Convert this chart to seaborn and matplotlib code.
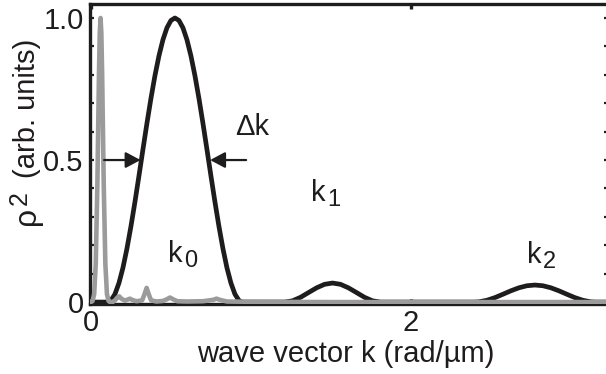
import numpy as np
import pandas as pd
import matplotlib
matplotlib.use("Agg")
import matplotlib.pyplot as plt
from matplotlib.ticker import MultipleLocator, FixedLocator
import seaborn as sns

# Spectrum of the periodic structure: main peak k0 and harmonics k1, k2
k_struct = [0.0, 0.105, 0.125, 0.15, 0.175, 0.2, 0.225, 0.25, 0.275, 0.3, 0.325,
            0.35, 0.375, 0.4, 0.425, 0.45, 0.475, 0.5, 0.525, 0.55, 0.575, 0.6,
            0.625, 0.65, 0.675, 0.7, 0.725, 0.75, 0.775, 0.8, 0.825, 0.85, 0.875,
            0.9, 0.925, 0.945,
            1.21, 1.26, 1.31, 1.36, 1.41, 1.46, 1.51, 1.56, 1.61, 1.66, 1.71, 1.76, 1.81,
            2.395, 2.425, 2.475, 2.525, 2.575, 2.625, 2.675, 2.725, 2.775, 2.825,
            2.875, 2.925, 2.975, 3.025, 3.075, 3.125, 3.155, 3.3]
rho_struct = [0.0, 0.0, 0.0056, 0.028, 0.067, 0.1208, 0.1883, 0.2666, 0.3526, 0.4441, 0.5374,
              0.6294, 0.7169, 0.7969, 0.8666, 0.9234, 0.9655, 0.9913, 1.0, 0.9913, 0.9655, 0.9234,
              0.8666, 0.7969, 0.7169, 0.6294, 0.5374, 0.4441, 0.3526, 0.2666, 0.1883, 0.1208, 0.067,
              0.028, 0.0056, 0.0,
              0.0, 0.0045, 0.0168, 0.0335, 0.050, 0.0625, 0.067, 0.0625, 0.050, 0.0335, 0.0168, 0.0045, 0.0,
              0.0, 0.0009, 0.0063, 0.0157, 0.0275, 0.0397, 0.0503, 0.0575, 0.060, 0.0575,
              0.0503, 0.0397, 0.0275, 0.0157, 0.0063, 0.0009, 0.0, 0.0]

# Spectrum of the unstructured reference (narrow peak near k = 0 plus ripples)
k_ref = [0.0, 0.01, 0.02, 0.03, 0.04, 0.05, 0.055, 0.06, 0.065, 0.07, 0.08, 0.09,
         0.1, 0.11, 0.12, 0.135, 0.15, 0.165, 0.177, 0.19, 0.2125, 0.23, 0.244, 0.26,
         0.285, 0.32, 0.333, 0.348, 0.363, 0.376, 0.41, 0.45, 0.475, 0.494, 0.513,
         0.54, 0.6, 0.7, 0.765, 0.785, 0.805, 0.85, 1.0, 1.5, 2.0, 2.5, 3.3]
rho_ref = [0.0, 0.004, 0.028, 0.135, 0.41, 0.80, 0.946, 1.0, 0.946, 0.80, 0.41, 0.135,
           0.028, 0.004, 0.0, 0.0, 0.006, 0.016, 0.02, 0.012, 0.005, 0.009, 0.012, 0.007,
           0.003, 0.006, 0.025, 0.05, 0.025, 0.006, 0.002, 0.004, 0.01, 0.016, 0.01,
           0.003, 0.002, 0.003, 0.008, 0.012, 0.008, 0.002, 0.001, 0.0, 0.0, 0.0, 0.0]

# Peak labels: letter, harmonic index and position
peak_index = ["0", "1", "2"]
peak_label_k = [0.525, 1.42, 2.77]
peak_label_y = [0.17, 0.385, 0.165]

# Half-maximum width markers
half_level = 0.5
fwhm_left = 0.31
fwhm_right = 0.745

sns.set_style("ticks")
plt.rcParams["font.family"] = ["Liberation Sans", "DejaVu Sans"]

ink = "#1f1c1d"
grey = "#9b9b9b"
fs = 21

W, H = 606, 374
fig = plt.figure(figsize=(W / 100, H / 100), dpi=100)
ax = fig.add_axes([0.1493, 0.1885, 0.8540, 0.7995])

df_struct = pd.DataFrame({"k": k_struct, "rho": rho_struct})
df_ref = pd.DataFrame({"k": k_ref, "rho": rho_ref})

sns.lineplot(data=df_struct, x="k", y="rho", ax=ax, color=ink, lw=3.4,
             sort=False, estimator=None, zorder=2.6)
sns.lineplot(data=df_ref, x="k", y="rho", ax=ax, color=grey, lw=3.3,
             sort=False, estimator=None, zorder=3)

ax.set_xlim(-0.003, 3.232)
ax.set_ylim(-0.005, 1.0475)

# Axes frame
for side in ["left", "top", "bottom", "right"]:
    ax.spines[side].set_color(ink)
    ax.spines[side].set_linewidth(2.4)

ax.xaxis.set_major_locator(FixedLocator([0, 2]))
ax.set_xticklabels(["0", "2"])
ax.yaxis.set_major_locator(FixedLocator([0, 0.5, 1.0]))
ax.set_yticklabels(["0", "0.5", "1.0"])
ax.yaxis.set_minor_locator(MultipleLocator(0.1))

ax.tick_params(axis="x", which="major", direction="in", length=3.5, width=2.4,
               top=True, bottom=True, color=ink, labelsize=fs, pad=4, labelcolor=ink)
ax.tick_params(axis="y", which="both", direction="in", length=3.0, width=1.6,
               left=True, right=True, color=ink, labelsize=fs, pad=5, labelcolor=ink)

ax.set_xlabel("wave vector k (rad/\u00b5m)", fontsize=fs, color=ink)
ax.xaxis.set_label_coords(0.4937, -0.122)
ax.set_ylabel("")

# Vertical axis title: rho with a large raised 2, then the unit text
def fig_px(x, y_top):
    return x / W, 1 - y_top / H

rot = dict(rotation=90, rotation_mode="anchor", ha="center", va="baseline", color=ink)
fig.text(*fig_px(35, 108), "(arb. units)", fontsize=fs, **rot)
fig.text(*fig_px(35, 216), "\u03c1", fontsize=23, **rot)
fig.text(*fig_px(27, 198), "2", fontsize=18, **rot)

# k with a large, low subscript
for idx, kx, ky in zip(peak_index, peak_label_k, peak_label_y):
    ax.text(kx, ky, "k", fontsize=fs, color=ink, ha="center", va="center")
    ax.annotate(idx, xy=(kx, ky), xytext=(11, -5), textcoords="offset points",
                fontsize=17, color=ink, ha="center", va="center")

arrow_style = dict(arrowstyle="-|>,head_length=0.6,head_width=0.32", lw=1.6,
                   color=ink, mutation_scale=15, shrinkA=0, shrinkB=0)
ax.annotate("", xy=(fwhm_left, half_level), xytext=(0.082, half_level),
            arrowprops=arrow_style, zorder=4)
ax.annotate("", xy=(fwhm_right, half_level), xytext=(0.97, half_level),
            arrowprops=arrow_style, zorder=4)
ax.text(1.01, 0.615, "\u0394k", fontsize=fs, color=ink, ha="center", va="center")

fig.savefig("out.png", dpi=100)
